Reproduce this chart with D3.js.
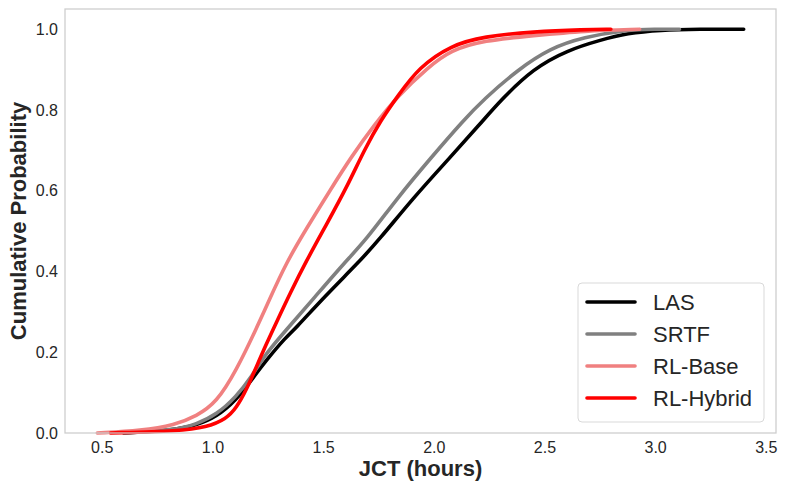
<!DOCTYPE html>
<html>
<head>
<meta charset="utf-8">
<script src="https://cdn.jsdelivr.net/npm/d3@7"></script>
<style>
  body { margin: 0; background: #fff; }
  svg text { font-family: "Liberation Sans", Arial, sans-serif; fill: #262626; }
</style>
</head>
<body>
<div id="chart"></div>
<script>
// CDF of job completion time
var lasX = [0.60, 0.83, 0.928, 1.018, 1.108, 1.176, 1.243, 1.333, 1.369, 1.51, 1.658, 1.752, 1.91, 2.063, 2.212, 2.302, 2.45, 2.604, 2.752, 2.874, 3.022, 3.20, 3.40];
var lasY = [0, 0.007, 0.02, 0.04, 0.082, 0.131, 0.18, 0.238, 0.255, 0.34, 0.421, 0.478, 0.584, 0.676, 0.767, 0.824, 0.903, 0.948, 0.973, 0.99, 0.998, 1.0, 1.0];

var srtfX = [0.60, 0.83, 0.928, 1.018, 1.108, 1.176, 1.243, 1.333, 1.46, 1.595, 1.694, 1.838, 1.986, 2.135, 2.225, 2.378, 2.527, 2.676, 2.87, 3.0, 3.11];
var srtfY = [0, 0.007, 0.022, 0.045, 0.09, 0.139, 0.198, 0.255, 0.335, 0.421, 0.478, 0.584, 0.681, 0.775, 0.826, 0.899, 0.953, 0.98, 0.998, 1.0, 1.0];

var baseX = [0.48, 0.68, 0.83, 0.928, 1.018, 1.108, 1.198, 1.257, 1.333, 1.423, 1.536, 1.626, 1.73, 1.838, 1.973, 2.077, 2.225, 2.45, 2.68, 2.93];
var baseY = [0, 0.006, 0.02, 0.042, 0.075, 0.155, 0.258, 0.33, 0.421, 0.505, 0.605, 0.683, 0.762, 0.835, 0.905, 0.948, 0.972, 0.984, 0.996, 1.0];

var hybridX = [0.54, 0.85, 0.973, 1.063, 1.108, 1.153, 1.198, 1.243, 1.29, 1.35, 1.423, 1.514, 1.613, 1.685, 1.761, 1.838, 1.932, 2.077, 2.225, 2.45, 2.68, 2.80];
var hybridY = [0, 0.005, 0.014, 0.035, 0.062, 0.106, 0.163, 0.22, 0.275, 0.345, 0.425, 0.515, 0.615, 0.70, 0.775, 0.835, 0.905, 0.96, 0.982, 0.994, 0.999, 1.0];

var seriesNames = ["LAS", "SRTF", "RL-Base", "RL-Hybrid"];
var seriesColors = ["#000000", "#808080", "#f08080", "#ff0000"];
var xTicks = [0.5, 1.0, 1.5, 2.0, 2.5, 3.0, 3.5];
var yTicks = [0.0, 0.2, 0.4, 0.6, 0.8, 1.0];

var width = 789, height = 490;
var margin = {top: 9, right: 13, bottom: 57, left: 65};

var xs = [lasX, srtfX, baseX, hybridX];
var ys = [lasY, srtfY, baseY, hybridY];
var series = seriesNames.map(function(name, i) {
    return {
        name: name,
        color: seriesColors[i],
        points: xs[i].map(function(x, j) { return [x, ys[i][j]]; })
    };
});

// matplotlib-like 5% padding on x
var xMin = d3.min(xs, function(a) { return d3.min(a); });
var xMax = d3.max(xs, function(a) { return d3.max(a); });
var pad = (xMax - xMin) * 0.05;

var x = d3.scaleLinear()
    .domain([xMin - pad, xMax + pad])
    .range([margin.left, width - margin.right]);
var y = d3.scaleLinear()
    .domain([0, 1.05])
    .range([height - margin.bottom, margin.top]);

var svg = d3.select("#chart").append("svg")
    .attr("width", width)
    .attr("height", height);

// basis curve smooths out the reading noise like a KDE-ish cdf
var line = d3.line()
    .x(function(d) { return x(d[0]); })
    .y(function(d) { return y(d[1]); })
    .curve(d3.curveBasis);

svg.append("g")
    .selectAll("path")
    .data(series)
    .enter()
    .append("path")
    .attr("d", function(d) { return line(d.points); })
    .attr("fill", "none")
    .attr("stroke", function(d) { return d.color; })
    .attr("stroke-width", 3.6)
    .attr("stroke-linecap", "round")
    .attr("stroke-linejoin", "round");

// axes without tick marks, only labels
var xAxis = svg.append("g")
    .attr("transform", "translate(0," + (height - margin.bottom) + ")")
    .call(d3.axisBottom(x).tickValues(xTicks).tickFormat(d3.format(".1f")).tickSize(0).tickPadding(9));
var yAxis = svg.append("g")
    .attr("transform", "translate(" + margin.left + ",0)")
    .call(d3.axisLeft(y).tickValues(yTicks).tickFormat(d3.format(".1f")).tickSize(0).tickPadding(7));

[xAxis, yAxis].forEach(function(g) {
    g.select(".domain").remove();
    g.selectAll("text")
        .style("font-size", "16px")
        .style("font-family", "'Liberation Sans', Arial, sans-serif")
        .attr("fill", "#262626");
});

// frame
svg.append("rect")
    .attr("x", margin.left)
    .attr("y", margin.top)
    .attr("width", width - margin.left - margin.right)
    .attr("height", height - margin.top - margin.bottom)
    .attr("fill", "none")
    .attr("stroke", "#cccccc")
    .attr("stroke-width", 1.25);

// axis titles
svg.append("text")
    .attr("x", (margin.left + width - margin.right) / 2)
    .attr("y", 476)
    .attr("text-anchor", "middle")
    .style("font-size", "22px")
    .style("font-weight", "bold")
    .text("JCT (hours)");

svg.append("text")
    .attr("transform", "translate(26," + ((margin.top + height - margin.bottom) / 2) + ") rotate(-90)")
    .attr("text-anchor", "middle")
    .style("font-size", "22px")
    .style("font-weight", "bold")
    .text("Cumulative Probability");

// legend
var legend = svg.append("g").attr("transform", "translate(578,283)");
legend.append("rect")
    .attr("width", 186)
    .attr("height", 139)
    .attr("rx", 4)
    .attr("fill", "#ffffff")
    .attr("fill-opacity", 0.85)
    .attr("stroke", "#d9d9d9")
    .attr("stroke-width", 1);

var items = legend.selectAll(".item")
    .data(series)
    .enter()
    .append("g")
    .attr("class", "item")
    .attr("transform", function(d, i) { return "translate(0," + (19 + i * 32) + ")"; });

items.append("line")
    .attr("x1", 9).attr("x2", 57)
    .attr("stroke", function(d) { return d.color; })
    .attr("stroke-width", 3.6)
    .attr("stroke-linecap", "round");

items.append("text")
    .attr("x", 75)
    .attr("dy", "0.36em")
    .style("font-size", "22px")
    .text(function(d) { return d.name; });
</script>
</body>
</html>
